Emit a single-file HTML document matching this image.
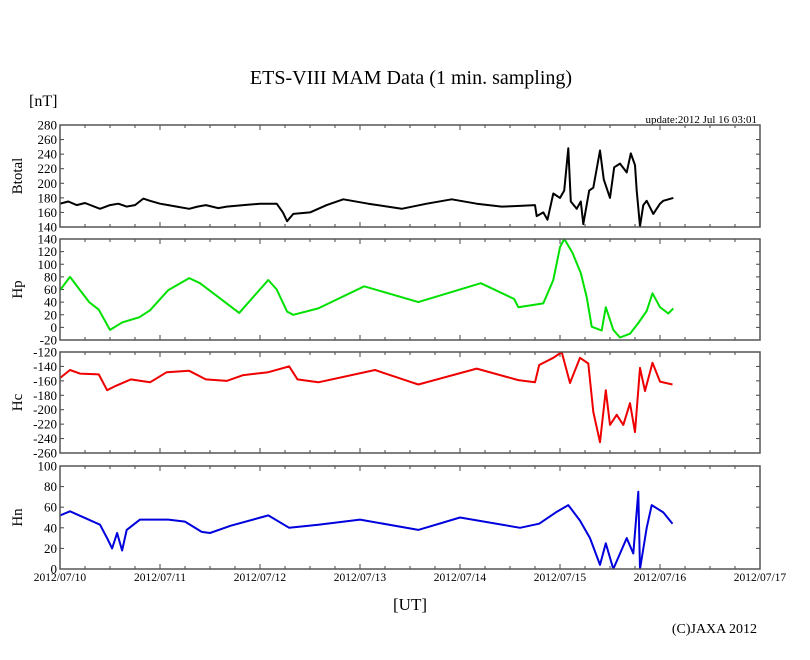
<!DOCTYPE html>
<html><head><meta charset="utf-8"><style>
body{margin:0;background:#fff;}
svg text{font-family:"Liberation Serif",serif;fill:#000;}
</style></head><body>
<svg id="c" width="810" height="655" viewBox="0 0 810 655">
<text x="411" y="84" font-size="20" text-anchor="middle">ETS-VIII MAM Data (1 min. sampling)</text>
<text x="29" y="106" font-size="16">[nT]</text>
<text x="757" y="123" font-size="11" text-anchor="end">update:2012 Jul 16 03:01</text>
<text x="410" y="610" font-size="17" text-anchor="middle">[UT]</text>
<text x="757" y="633" font-size="14" text-anchor="end">(C)JAXA 2012</text>
<g id="plots"></g>
</svg>
<script>
const dayLabels=["2012/07/10","2012/07/11","2012/07/12","2012/07/13","2012/07/14","2012/07/15","2012/07/16","2012/07/17"];
const btTicks=[140,160,180,200,220,240,260,280];
const hpTicks=[-20,0,20,40,60,80,100,120,140];
const hcTicks=[-260,-240,-220,-200,-180,-160,-140,-120];
const hnTicks=[0,20,40,60,80,100];
const btHours=[0,2,4,6,9.6,12,14,16,18,20,21.6,24,26,28,31,33,35,38,40,44,48,52,53.5,54.5,56,60,64,68,74,82,88,94,100,106,110.4,114,114.4,116,117,118.4,120,121,122,122.6,124,125,125.6,127,128,129.6,130.5,132,133,134.4,136,137,138,138.4,139.2,140,140.8,142.4,144,144.8,147.2];
const btVals=[172,175,170,173,165,170,172,168,170,179,176,172,170,168,165,168,170,166,168,170,172,172,160,148,158,160,170,178,172,165,172,178,172,168,169,170,155,160,150,186,180,190,248,175,165,175,144,190,194,245,205,180,222,227,215,241,225,190,141,170,176,158,172,176,180];
const hpHours=[0,2.4,4.8,7,9.3,12,15,19,21.6,26,31,33.6,38,43,50,52,54.5,56,62,73,86,101,109,110,116,118.4,120,121,121.5,123,125,126.4,127.6,130,131,132.8,134.4,136.8,138.8,140.8,142.2,144,146,147.2];
const hpVals=[59,80,59,40,28,-4,8,16,27,59,78,70,48,23,75,60,25,20,30,65,40,70,45,32,38,75,127,140,135,118,86,48,1,-5,32,-4,-16,-10,7,26,54,32,22,30];
const hcHours=[0,2.4,4.8,9.3,11.3,13,17,21.6,25.6,31,35,40,44,50,55,57,62,75.6,86,100,110,114,115,118.4,120.4,122.4,124.8,126.8,128,129.6,131,132,133.6,135.2,136.8,138,139.2,140.4,142.2,144,147];
const hcVals=[-156,-145,-150,-151,-173,-168,-158,-162,-148,-146,-158,-160,-152,-148,-140,-158,-162,-145,-165,-143,-159,-162,-138,-128,-120,-163,-128,-136,-203,-245,-173,-221,-207,-221,-191,-231,-142,-174,-135,-161,-165];
const hnHours=[0,2.4,9.6,11.3,12.5,13.7,14.9,16,19.2,26,30,34,36,41,50,55,62,72,86,96,110.4,115,119,122,124.8,127.2,129.6,131,132.8,136,137.6,138.8,139.2,140.8,142,144.8,147];
const hnVals=[52,56,43,30,20,35,18,38,48,48,46,36,35,42,52,40,43,48,38,50,40,44,55,62,47,30,4,25,0,30,15,75,0,40,62,55,44];

const NS="http://www.w3.org/2000/svg";
const G=document.getElementById('plots');
const X0=60,X1=760;
function xs(h){return X0+(X1-X0)*h/168;}
function mk(tag,attrs,parent){const e=document.createElementNS(NS,tag);for(const k in attrs)e.setAttribute(k,attrs[k]);(parent||G).appendChild(e);return e;}
function panel(name,label,top,bottom,ticks,hours,vals,color,showX){
  const lo=ticks[0],hi=ticks[ticks.length-1];
  const ys=v=>bottom-(v-lo)/(hi-lo)*(bottom-top);
  const g=mk('g',{});
  
  
  const cp=mk('clipPath',{id:'cp-'+name},g);
  mk('rect',{x:X0,y:top,width:X1-X0,height:bottom-top},cp);
  ticks.forEach(t=>{
    const y=ys(t);
    const tl=mk('text',{x:X0-3,y:y+4.5,'font-size':13,'text-anchor':'end'},g);
    tl.textContent=t;
    
    
    mk('line',{x1:X0,x2:X0+4,y1:y,y2:y,stroke:'#444','stroke-width':1},g);
    mk('line',{x1:X1-4,x2:X1,y1:y,y2:y,stroke:'#444','stroke-width':1},g);
  });
  for(let h=0;h<=168;h+=6){
    const x=xs(h);const len=(h%24===0)?5:3;
    mk('line',{x1:x,x2:x,y1:top,y2:top+len,stroke:'#444','stroke-width':1},g);
    mk('line',{x1:x,x2:x,y1:bottom-len,y2:bottom,stroke:'#444','stroke-width':1},g);
  }
  const pts=hours.map((h,i)=>xs(h).toFixed(1)+','+ys(vals[i]).toFixed(1)).join(' ');
  const pl=mk('polyline',{points:pts,fill:'none',stroke:color,'stroke-width':2,'stroke-linejoin':'round','clip-path':'url(#cp-'+name+')'},g);
  
  
  const fr=mk('rect',{x:X0,y:top,width:X1-X0,height:bottom-top,fill:'none',stroke:'#555','stroke-width':1.5},g);
  
  
  const yl=mk('text',{x:0,y:0,'font-size':15,'text-anchor':'middle',transform:'translate(22,'+((top+bottom)/2)+') rotate(-90)'},g);
  yl.textContent=label;
  
  
  if(showX){
    dayLabels.forEach((d,i)=>{
      const t=mk('text',{x:xs(i*24),y:bottom+12,'font-size':11.5,'text-anchor':'middle'},g);
      t.textContent=d;
      
      
    });
  }
}
panel('btotal','Btotal',125,227,btTicks,btHours,btVals,'#000',false);
panel('hp','Hp',239,340,hpTicks,hpHours,hpVals,'#00e000',false);
panel('hc','Hc',352,453,hcTicks,hcHours,hcVals,'#ee0000',false);
panel('hn','Hn',466,569,hnTicks,hnHours,hnVals,'#0000dd',true);
</script>
</body></html>
